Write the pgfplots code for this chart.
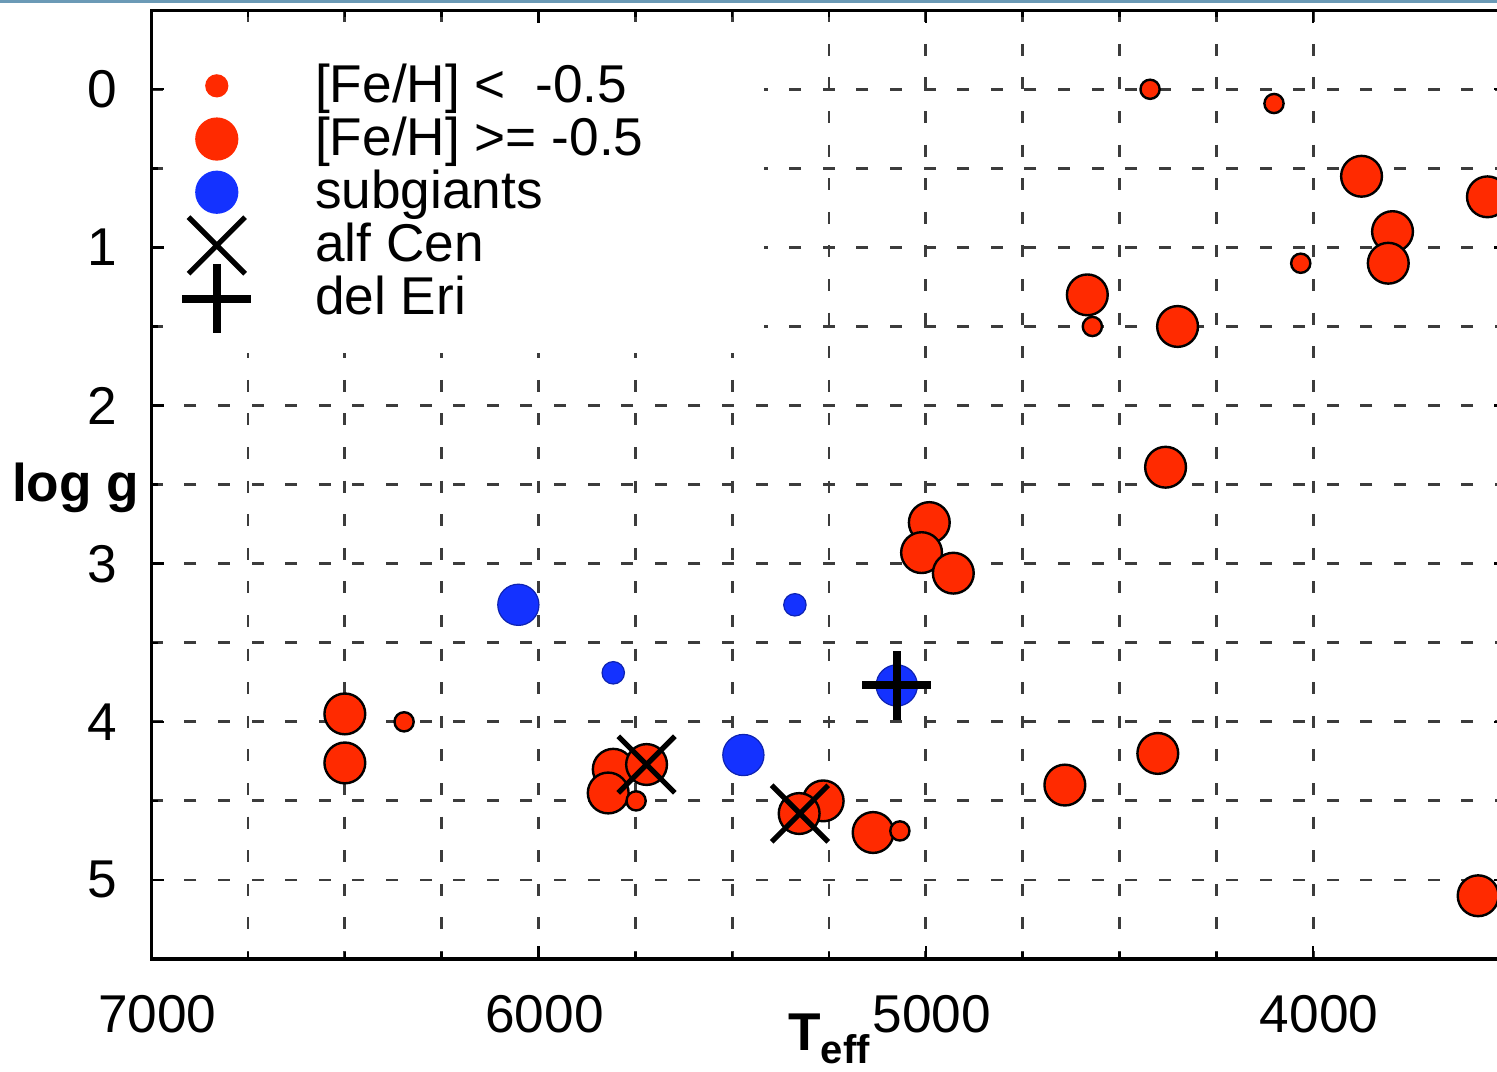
\documentclass[border=0pt]{standalone}
\usepackage{pgfplots}
\pgfplotsset{compat=1.18}
\usepackage{fontspec}
\setmainfont{Liberation Sans}

\definecolor{fered}{HTML}{FF2A00}
\definecolor{subblue}{HTML}{1432FF}
\definecolor{gridink}{HTML}{3C3C3C}
\definecolor{frameline}{HTML}{6B9AB6}

\newcommand{\bigfont}{\fontsize{13.3}{15}\selectfont}
\newcommand{\legstrut}{\rule[-1.72pt]{0pt}{11.27pt}}

\pgfplotsset{
  legcirc/.style 2 args={legend image code/.code={%
      \path[draw=none, fill=none] (-10pt,-6.65pt) rectangle (10pt,6.65pt);
      \fill[#1] (0pt,0pt) circle (#2);}},
  legmark/.style={legend image code/.code={%
      \path[draw=none, fill=none] (-10pt,-6.65pt) rectangle (10pt,6.65pt);
      \begin{pgfinterruptboundingbox}
      \draw plot[only marks,#1] coordinates {(0pt,0pt)};
      \end{pgfinterruptboundingbox}}},
}

\begin{document}
\begin{tikzpicture}
\useasboundingbox (-37.8pt,-28pt) rectangle (336.45pt,239.75pt);
\clip (-37.8pt,-28pt) rectangle (336.45pt,239.75pt);
\begin{axis}[
  at={(0pt,0pt)}, anchor=south west,
  scale only axis, width=338.9pt, height=237.2pt,
  xmin=3500, xmax=7000, ymin=-0.5, ymax=5.5,
  x dir=reverse, y dir=reverse,
  xtick={4000,5000,6000,7000}, minor x tick num=3,
  ytick={0,1,2,3,4,5}, minor y tick num=1,
  grid=both,
  grid style={gridink, line width=0.7pt, dash pattern=on 3pt off 5.4pt},
  axis line style={black, line width=0.8pt},
  tick style={black, line width=0.6pt},
  major tick length=3.25pt, minor tick length=1.75pt,
  tick align=inside,
  tick label style={font=\bigfont},
  /pgf/number format/assume math mode=true,
  /pgf/number format/set thousands separator={},
  xticklabel style={inner sep=0pt, yshift=-9pt, xshift=1.5pt},
  yticklabel style={inner sep=0pt, xshift=-8.3pt},
  xlabel={\bfseries T\raisebox{-3.3pt}{\fontsize{10}{12}\selectfont eff}},
  xlabel style={font=\bigfont, at={(axis description cs:0.5,0)}, anchor=north, inner sep=0pt, yshift=-13.5pt},
  ylabel={\bfseries log g},
  ylabel style={font=\bigfont, rotate=-90, at={(axis description cs:0,0.497)}, anchor=east, inner sep=0pt, xshift=-2.8pt},
  legend cell align=left,
  legend style={at={(axis description cs:0,1)}, anchor=north west,
    xshift=5.7pt, yshift=-5pt, draw=none, fill=white,
    inner xsep=0.5pt, inner ysep=7.05pt, row sep=0pt, column sep=14.6pt,
    nodes={inner sep=0pt}, font=\bigfont},
]
% [Fe/H] >= -0.5
\addplot[only marks, mark=*, mark size=5.1pt, forget plot,
  mark options={fill=fered, draw=black, line width=0.6pt}] coordinates {
  (3875,0.55) (3550,0.68) (3795,0.90) (3806,1.10) (4583,1.30) (4350,1.50)
  (4381,2.39) (4991,2.74) (5011,2.93) (4929,3.06)
  (6500,3.95) (6500,4.26) (5807,4.30) (5721,4.27) (5820,4.45)
  (5265,4.50) (5327,4.58) (5136,4.70) (4641,4.40) (4401,4.20) (3574,5.10)};
% [Fe/H] < -0.5
\addplot[only marks, mark=*, mark size=2.4pt, forget plot,
  mark options={fill=fered, draw=black, line width=0.6pt}] coordinates {
  (4421,0.00) (4101,0.09) (4032,1.10) (4570,1.50)
  (6347,4.00) (5748,4.50) (5067,4.69)};
% subgiants
\addplot[only marks, mark=*, mark size=5.15pt, forget plot,
  mark options={fill=subblue, draw=subblue!70!black, line width=0.3pt}] coordinates {
  (6052,3.26) (5471,4.21) (5075,3.77)};
\addplot[only marks, mark=*, mark size=2.8pt, forget plot,
  mark options={fill=subblue, draw=subblue!70!black, line width=0.3pt}] coordinates {
  (5338,3.26) (5807,3.69)};
% alf Cen
\addplot[only marks, mark=x, mark size=10pt, forget plot,
  mark options={black, line width=1.3pt}] coordinates {
  (5721,4.27) (5325,4.58)};
% del Eri
\addplot[only marks, mark=+, mark size=8.6pt, forget plot,
  mark options={black, line width=2pt}] coordinates {
  (5075,3.77)};

\addlegendimage{legcirc={fered}{2.7pt}}
\addlegendentry{\makebox[111.7pt][l]{\legstrut[Fe/H] <\ \ -0.5}}
\addlegendimage{legcirc={fered}{5.2pt}}
\addlegendentry{\legstrut[Fe/H] >= -0.5}
\addlegendimage{legcirc={subblue}{5.2pt}}
\addlegendentry{\legstrut subgiants}
\addlegendimage{legmark={mark=x, mark size=10pt, mark options={black, line width=1.3pt}}}
\addlegendentry{\legstrut alf Cen}
\addlegendimage{legmark={mark=+, mark size=8.6pt, mark options={black, line width=2pt}}}
\addlegendentry{\legstrut del Eri}
\end{axis}
\draw[frameline, line width=0.7pt] (-37.8pt,239.4pt) -- (336.45pt,239.4pt);
\end{tikzpicture}
\end{document}
